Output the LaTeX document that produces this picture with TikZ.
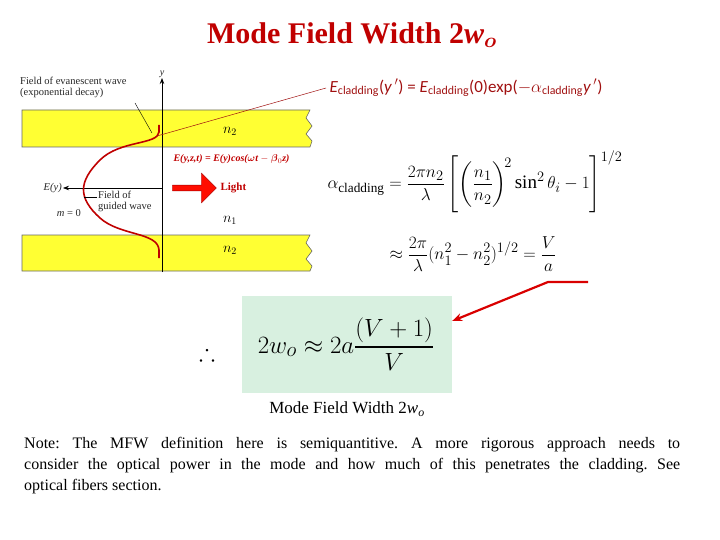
\documentclass[tikz,border=0pt]{standalone}
\usepackage{amsmath,amssymb}
\usepackage{fontspec}
\setmainfont{Liberation Serif}
\newfontfamily\carl{Carlito}
\usetikzlibrary{arrows.meta,shapes.arrows}
\definecolor{ttl}{HTML}{C00000}
\definecolor{dred}{HTML}{A01010}
\definecolor{yel}{HTML}{FFFF33}
\definecolor{grn}{HTML}{D8F0E0}
\frenchspacing
\begin{document}
\begin{tikzpicture}[x=1pt,y=-1pt,
  band/.style={fill=yel,draw=gray!80!black,line width=0.6pt},
  lbl/.style={font=\fontsize{10.5}{11}\selectfont,inner sep=1pt,text=gray!30!black},
  nl/.style={font=\fontsize{14}{15}\selectfont}]
\useasboundingbox (0,0) rectangle (720,540);
\node[text=ttl,font=\fontsize{30}{34}\bfseries] (title) at (352,35) {Mode Field Width 2\textit{w}$_{\boldsymbol{o}}$};
% bands
\draw[band] (22,110) -- (310,110) -- (306,118) -- (312,126) -- (306,134) -- (312,141) -- (310,147) -- (22,147) -- cycle;
\draw[band] (22,235) -- (310,235) -- (306,243) -- (312,251) -- (306,259) -- (312,266) -- (310,271) -- (22,271) -- cycle;
\node[nl] (n2a) at (230,131) {$n_2$};
\node[nl] (n2b) at (230,250) {$n_2$};
\node[nl] (n1) at (230,220) {$n_1$};
% axes
\coordinate (ybot) at (162,272);
\coordinate (ytop) at (162,78);
\draw[-{Stealth[length=6pt]},line width=0.8pt] (ybot) -- (ytop);
\node[lbl,font=\fontsize{10}{10}\itshape] (ylab) at (162,74) {y};
\coordinate (o) at (162,188);
\node[lbl,anchor=east,font=\fontsize{10.5}{11}\itshape] (Ey) at (63,188) {E(y)};
\draw[-{Stealth[length=6pt]},line width=0.7pt] (o) -- (Ey);
% field curve
\draw[red!75!black,line width=1.6pt] (159,125) -- (159,132) .. controls (158,145) and (120,140) .. (100,160) .. controls (78,182) and (78,198) .. (100,218) .. controls (120,236) and (158,232) .. (159,250) -- (159,258);
% labels
\node[lbl,align=left,anchor=north west] (evan) at (19,76) {Field of evanescent wave\\(exponential decay)};
\coordinate (evanpt) at (152,133);
\draw[line width=0.4pt] (135,103) -- (evanpt);
\node[lbl,align=left,anchor=north west] (guided) at (97,190) {Field of\\guided wave};
\draw[line width=0.5pt] (97,197) -- (84,197);
\node[lbl] (m0) at (69,213) {\textit{m} = 0};
\node[text=ttl,font=\fontsize{10}{11}\bfseries\itshape,anchor=west] (Eyzt) at (170,159) {E(y,z,t) = E(y)cos($\boldsymbol{\omega}$t $-$ $\boldsymbol{\beta}_0$z)};
\node[single arrow,fill=red!90!orange,draw=red!60!black,minimum height=44pt,minimum width=30pt,single arrow head extend=5pt,inner sep=1pt] (arr) at (193,188) {};
\node[text=ttl,font=\fontsize{11}{12}\bfseries,anchor=west] (light) at (217,188) {Light};
% cladding eq
\node[text=dred,font=\carl\fontsize{17}{20}\selectfont,anchor=west] (Ecl) at (326,88) {\textit{E}$_{\text{\carl cladding}}$(\textit{y\,}$'$) = \textit{E}$_{\text{\carl cladding}}$(0)exp($-\alpha_{\text{\carl cladding}}$\textit{y\,}$'$)};
\draw[dred,line width=0.5pt] (157,136) -- (Ecl.west);
% alpha eq
\node[anchor=west,font=\fontsize{19}{22}\selectfont] (alpha) at (324,182) {$\displaystyle \alpha_{\text{cladding}} = \frac{2\pi n_2}{\lambda}\left[\left(\frac{n_1}{n_2}\right)^{\!2}\sin^2\theta_i - 1\right]^{1/2}$};
\node[anchor=west,font=\fontsize{19}{22}\selectfont] (approx) at (386,254) {$\displaystyle \approx\frac{2\pi}{\lambda}(n_1^2-n_2^2)^{1/2} = \frac{V}{a}$};
% green box
\node[fill=grn,minimum width=210pt,minimum height=97pt,inner sep=0pt] (box) at (347,344.5) {};
\node[font=\fontsize{29}{32}\selectfont] (mfw) at (346,344) {$2w_o \approx 2a\dfrac{(V+1)}{V}$};
\node[font=\fontsize{24}{26}\selectfont] (thf) at (207,352) {$\therefore$};
\coordinate (ra) at (588,282);
\coordinate (rb) at (548,282);
\draw[red!85!black,line width=2.2pt,-{Stealth[length=10pt,width=8pt]}] (ra) -- (rb) -- (box.east |- 0,321);
\node[font=\fontsize{17}{20}\selectfont] (cap) at (347,409) {Mode Field Width 2\textit{w}$_{\mathit{o}}$};
\node[anchor=north west,text width=656pt,align=justify,font=\fontsize{16}{21}\selectfont,inner sep=0pt] (note) at (24,437) {Note: The MFW definition here is semiquantitive. A more rigorous approach needs to\linebreak consider the optical power in the mode and how much of this penetrates the cladding. See\linebreak optical fibers section.};
\end{tikzpicture}
\end{document}
